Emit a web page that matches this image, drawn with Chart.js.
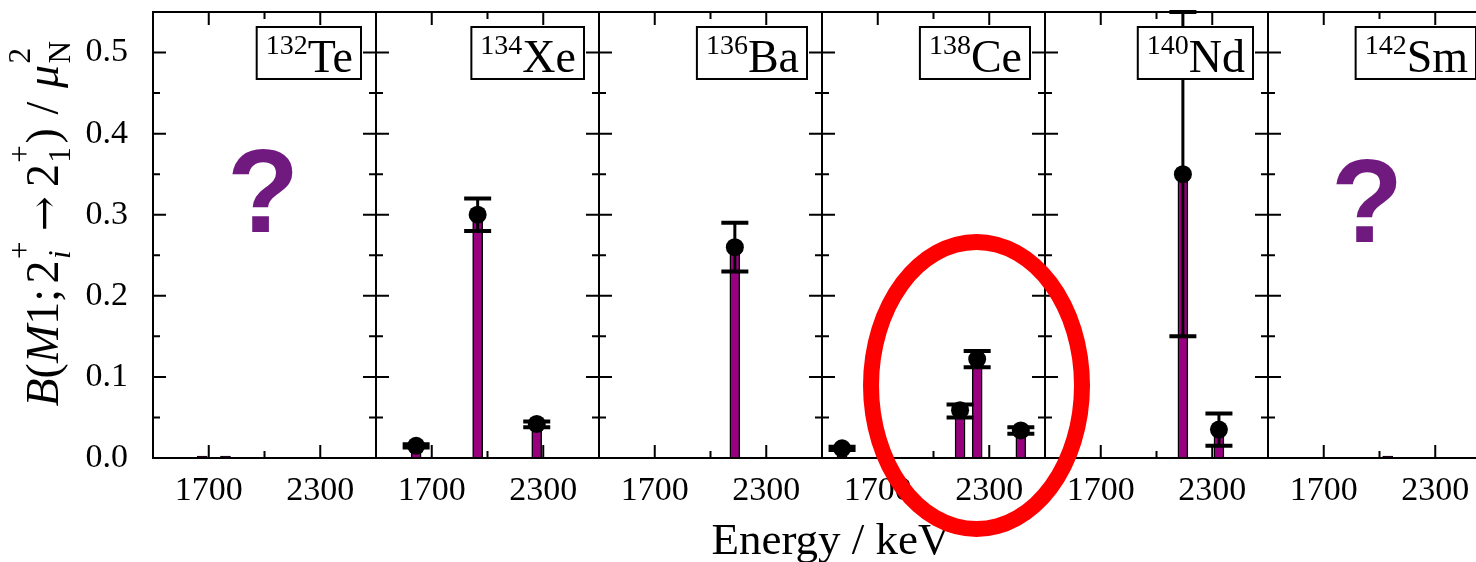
<!DOCTYPE html>
<html>
<head>
<meta charset="utf-8">
<script src="https://cdn.jsdelivr.net/npm/chart.js@4"></script>
<style>
  html, body { margin: 0; padding: 0; background: #fff; }
  body { position: relative; width: 1476px; height: 562px; overflow: hidden; }
  canvas { position: absolute; top: 0; }
  #xtitle {
    position: absolute; left: 631px; width: 400px; top: 517px;
    text-align: center; font: 45px/45px "Liberation Serif", serif; color: #000;
  }
  #ring {
    position: absolute; left: 863px; top: 234px; width: 227px; height: 303px;
    box-sizing: border-box; border: 16px solid #ff0000; border-radius: 50%;
  }
</style>
</head>
<body>
<div id="xtitle">Energy / keV</div>
<div id="ring"></div>
<script>
// nuclei, one panel each
const massNumbers = ["132", "134", "136", "138", "140", "142"];
const elements = ["Te", "Xe", "Ba", "Ce", "Nd", "Sm"];

// axis ticks (keV / mu_N^2)
const xTickLabels = [1700, 2300];
const xMinorTicks = [2000];
const yTickLabels = [0, 0.1, 0.2, 0.3, 0.4, 0.5];
const yMinorTicks = [0.05, 0.15, 0.25, 0.35, 0.45];

// energies (keV), B(M1) values and error limits
const teEnergy = [1665, 1790];
const teValue = [0.0025, 0.0025];
const teLow = [null, null];
const teHigh = [null, null];

const xeEnergy = [1616, 1947, 2265];
const xeValue = [0.015, 0.30, 0.042];
const xeLow = [0.013, 0.28, 0.038];
const xeHigh = [0.017, 0.32, 0.045];

const baEnergy = [2131];
const baValue = [0.26];
const baLow = [0.23];
const baHigh = [0.29];

const ceEnergy = [1508, 2143, 2235, 2470];
const ceValue = [0.012, 0.059, 0.122, 0.034];
const ceLow = [0.010, 0.050, 0.112, 0.030];
const ceHigh = [0.014, 0.066, 0.132, 0.038];

const ndEnergy = [2142, 2336];
const ndValue = [0.35, 0.035];
const ndLow = [0.15, 0.015];
const ndHigh = [0.55, 0.055];

const smEnergy = [2044];
const smValue = [0.0025];
const smLow = [null];
const smHigh = [null];

const panels = [
  { energy: teEnergy, value: teValue, low: teLow, high: teHigh, unknown: { dx: 110, base: 232 } },
  { energy: xeEnergy, value: xeValue, low: xeLow, high: xeHigh },
  { energy: baEnergy, value: baValue, low: baLow, high: baHigh },
  { energy: ceEnergy, value: ceValue, low: ceLow, high: ceHigh },
  { energy: ndEnergy, value: ndValue, low: ndLow, high: ndHigh },
  { energy: smEnergy, value: smValue, low: smLow, high: smHigh, unknown: { dx: 99, base: 242 } },
];

const panelLeft = [153, 376, 599, 822, 1045, 1268];
const panelWidth = 223;
const serif = '"Liberation Serif", serif';

// y axis title: B(M1; 2_i^+ -> 2_1^+) / mu_N^2
const yTitleParts = [
  { t: "B", it: true }, { t: "(" }, { t: "M", it: true }, { t: "1" }, { t: ";" }, { gap: 0.12 },
  { t: "2" }, { sup: "+", sub: "i", subIt: true }, { gap: 0.2 }, { t: "\u2192", arrow: true }, { gap: 0.2 },
  { t: "2" }, { sup: "+", sub: "1" }, { t: ")" }, { gap: 0.3 }, { t: "/" }, { gap: 0.3 },
  { t: "\u03bc", it: true }, { sup: "2", sub: "N" },
];

function fnt(it, size) {
  return (it ? "italic " : "") + size + "px " + serif;
}

function partFont(pt, size) {
  return pt.arrow ? size * 0.9 + 'px "DejaVu Serif", serif' : fnt(pt.it, size);
}

function drawRich(ctx, parts, size) {
  const small = size * 0.68;
  const widths = parts.map((pt) => {
    if (pt.gap) return pt.gap * size;
    if (pt.sup !== undefined) {
      ctx.font = fnt(false, small);
      const a = ctx.measureText(pt.sup).width;
      ctx.font = fnt(pt.subIt, small);
      const b = ctx.measureText(pt.sub).width;
      return Math.max(a, b) + 0.06 * size;
    }
    ctx.font = partFont(pt, size);
    return ctx.measureText(pt.t).width;
  });
  const total = widths.reduce((a, b) => a + b, 0);
  let x = -total / 2;
  ctx.textBaseline = "alphabetic";
  ctx.textAlign = "left";
  parts.forEach((pt, k) => {
    if (pt.sup !== undefined) {
      ctx.font = fnt(false, small);
      ctx.fillText(pt.sup, x + 0.03 * size, -0.6 * size);
      ctx.font = fnt(pt.subIt, small);
      ctx.fillText(pt.sub, x + 0.03 * size, 0.26 * size);
    } else if (pt.t) {
      ctx.font = partFont(pt, size);
      ctx.fillText(pt.t, x, 0);
    }
    x += widths[k];
  });
}

function makeDecor(p, first) {
  return {
    id: "decor",
    afterDatasetDraw(chart, args) {
      if (args.index !== 0) return;
      // error bars over the bars, under the points
      const { ctx, scales: { x: xs, y: ys } } = chart;
      ctx.save();
      ctx.strokeStyle = "#000";
      p.energy.forEach((e, k) => {
        if (p.low[k] == null) return;
        const x = xs.getPixelForValue(e);
        const y1 = ys.getPixelForValue(p.low[k]);
        const y2 = ys.getPixelForValue(p.high[k]);
        ctx.lineWidth = 3;
        ctx.beginPath();
        ctx.moveTo(x, y1);
        ctx.lineTo(x, y2);
        ctx.stroke();
        ctx.lineWidth = 4;
        ctx.beginPath();
        ctx.moveTo(x - 13.5, y1);
        ctx.lineTo(x + 13.5, y1);
        ctx.moveTo(x - 13.5, y2);
        ctx.lineTo(x + 13.5, y2);
        ctx.stroke();
      });
      ctx.restore();
    },
    afterDraw(chart) {
      const { ctx, chartArea: a, scales: { x: xs, y: ys } } = chart;
      ctx.save();
      ctx.strokeStyle = "#000";
      ctx.lineWidth = 2;
      ctx.strokeRect(a.left, a.top, a.right - a.left, a.bottom - a.top);

      // inward ticks on all four sides
      ctx.beginPath();
      const xt = (vals, len) => vals.forEach((v) => {
        const x = xs.getPixelForValue(v);
        ctx.moveTo(x, a.bottom);
        ctx.lineTo(x, a.bottom - len);
        ctx.moveTo(x, a.top);
        ctx.lineTo(x, a.top + len);
      });
      const yt = (vals, len) => vals.forEach((v) => {
        const y = ys.getPixelForValue(v);
        ctx.moveTo(a.left, y);
        ctx.lineTo(a.left + len, y);
        ctx.moveTo(a.right, y);
        ctx.lineTo(a.right - len, y);
      });
      xt(xTickLabels, 13);
      xt(xMinorTicks, 7);
      yt(yTickLabels.slice(1), 13);
      yt(yMinorTicks, 7);
      ctx.stroke();

      // nucleus label box
      const boxTop = a.top + 15;
      const boxRight = a.right - 15;
      ctx.font = fnt(false, 28);
      const supW = ctx.measureText(p.mass).width;
      ctx.font = fnt(false, 46);
      const elW = ctx.measureText(p.el).width;
      const boxW = supW + elW + 17;
      const boxLeft = boxRight - boxW;
      ctx.fillStyle = "#fff";
      ctx.fillRect(boxLeft, boxTop, boxW, 52);
      ctx.strokeRect(boxLeft, boxTop, boxW, 52);
      ctx.fillStyle = "#000";
      ctx.textAlign = "left";
      ctx.textBaseline = "alphabetic";
      ctx.font = fnt(false, 28);
      ctx.fillText(p.mass, boxLeft + 9, boxTop + 27);
      ctx.font = fnt(false, 46);
      ctx.fillText(p.el, boxLeft + 9 + supW, boxTop + 45);

      // question mark for nuclei without data
      if (p.unknown) {
        ctx.fillStyle = "#701a80";
        ctx.font = 'bold 118px "Liberation Sans", sans-serif';
        ctx.textAlign = "center";
        ctx.fillText("?", a.left + p.unknown.dx, p.unknown.base);
      }

      // y axis title on the first panel
      if (first) {
        ctx.fillStyle = "#000";
        ctx.translate(58, 223);
        ctx.rotate(-Math.PI / 2);
        drawRich(ctx, yTitleParts, 46);
      }
      ctx.restore();
    },
  };
}

function makePanel(i) {
  const p = { ...panels[i], mass: massNumbers[i], el: elements[i] };
  const first = i === 0;
  const canvas = document.createElement("canvas");
  const padL = first ? 0 : 20;
  const left = first ? 0 : panelLeft[i] - 20;
  canvas.width = first ? panelLeft[0] + panelWidth + 20 : panelWidth + 40;
  canvas.height = 562;
  canvas.style.left = left + "px";
  document.body.insertBefore(canvas, document.getElementById("xtitle"));

  const bars = p.energy.map((e, k) => ({ x: e, y: p.value[k] }));
  const points = p.energy
    .map((e, k) => ({ x: e, y: p.value[k], ok: p.low[k] != null }))
    .filter((d) => d.ok)
    .map((d) => ({ x: d.x, y: d.y }));

  new Chart(canvas, {
    type: "bar",
    data: {
      datasets: [
        {
          type: "bar",
          data: bars,
          backgroundColor: "#990080",
          borderColor: "#000",
          borderWidth: 1.5,
          barThickness: 10,
          order: 2,
        },
        {
          type: "scatter",
          data: points,
          pointRadius: 9,
          pointBackgroundColor: "#000",
          pointBorderWidth: 0,
          order: 1,
        },
      ],
    },
    options: {
      responsive: false,
      animation: false,
      layout: { padding: { left: padL, right: 20, top: 12, bottom: 0 } },
      plugins: { legend: { display: false }, tooltip: { enabled: false } },
      scales: {
        x: {
          type: "linear",
          min: 1400,
          max: 2600,
          offset: false,
          grid: { display: false, drawTicks: false },
          border: { display: false },
          afterBuildTicks: (s) => {
            s.ticks = xTickLabels.map((v) => ({ value: v }));
          },
          afterFit: (s) => {
            s.height = 104;
            s.paddingLeft = 0;
            s.paddingRight = 0;
          },
          ticks: {
            autoSkip: false,
            maxRotation: 0,
            padding: 13,
            color: "#000",
            font: { family: serif, size: 34 },
            callback: (v) => String(v),
          },
        },
        y: {
          display: first,
          min: 0,
          max: 0.55,
          grid: { display: false, drawTicks: false },
          border: { display: false },
          afterBuildTicks: (s) => {
            s.ticks = yTickLabels.map((v) => ({ value: v }));
          },
          afterFit: (s) => {
            s.width = first ? panelLeft[0] : 0;
            s.paddingTop = 0;
            s.paddingBottom = 0;
          },
          ticks: {
            padding: 25,
            color: "#000",
            font: { family: serif, size: 34 },
            callback: (v) => Number(v).toFixed(1),
          },
        },
      },
    },
    plugins: [makeDecor(p, first)],
  });
}

panels.forEach((p, i) => makePanel(i));
</script>
</body>
</html>
